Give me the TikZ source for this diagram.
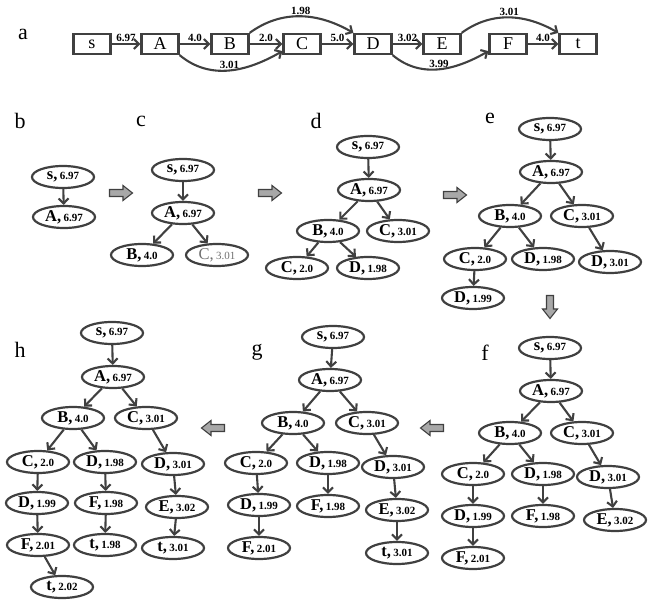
\documentclass[tikz,border=0pt]{standalone}
\usepackage{fontspec}
\setmainfont{Liberation Serif}
\usetikzlibrary{arrows.meta,shapes.geometric}
\definecolor{ln}{HTML}{404040}
\definecolor{bf}{HTML}{A8A8A8}
\newcommand\trn[2]{{\fontsize{16.5}{16}\selectfont\bfseries #1,}\ {\fontsize{11}{11}\selectfont\bfseries #2}}
\newcommand\trg[2]{\textcolor{ln!75}{{\fontsize{16.5}{16}\selectfont #1,}\ {\fontsize{11}{11}\selectfont #2}}}
\tikzset{
  box/.style={draw=ln, line width=2.2pt, minimum width=37pt, minimum height=20pt, inner sep=0pt, font=\fontsize{18}{18}\selectfont},
  tn/.style={ellipse, draw=ln, line width=2.2pt, minimum width=62pt, minimum height=22pt, inner sep=0pt},
  edge/.style={draw=ln, line width=2.1pt, -{Straight Barb[length=5pt,width=10pt]}},
  lab/.style={font=\fontsize{11}{11}\selectfont\bfseries, inner sep=1pt},
  plab/.style={font=\fontsize{22}{22}\selectfont, inner sep=0pt},
  blkarrow/.pic={\draw[draw=ln, fill=bf, line width=1.1pt] (-11.5,-3.5) -- (2,-3.5) -- (2,-7.5) -- (11.5,0) -- (2,7.5) -- (2,3.5) -- (-11.5,3.5) -- cycle;}
}
\begin{document}
\begin{tikzpicture}[x=1pt,y=-1pt]
\useasboundingbox (0,0) rectangle (648,601);
% ---------- panel a
\node[plab] (la) at (23,34) {a};
\node[box] (s) at (92,44) {s};
\node[box] (A) at (160,44) {A};
\node[box] (B) at (230,44) {B};
\node[box] (C) at (302,44) {C};
\node[box] (D) at (373,44) {D};
\node[box] (E) at (442,44) {E};
\node[box] (F) at (508,44) {F};
\node[box] (t) at (578,44) {t};
\draw[edge] (s) -- node[lab,above]{6.97} (A);
\draw[edge] (A) -- node[lab,above]{4.0} (B);
\draw[edge] (B) -- node[lab,above]{2.0} (C);
\draw[edge] (C) -- node[lab,above]{5.0} (D);
\draw[edge] (D) -- node[lab,above]{3.02} (E);
\draw[edge] (F) -- node[lab,above]{4.0} (t);
\draw[edge] (A.south east) to[out=-40,in=-150] node[lab,above,inner sep=0.5pt]{3.01} (C.200);
\draw[edge] (D.south east) to[out=-40,in=-150] node[lab,above,inner sep=0.5pt]{3.99} (F.200);
\draw[edge] (B.north east) to[out=36,in=150] node[lab,above,inner sep=0.5pt]{1.98} (D.north west);
\draw[edge] (E.north east) to[out=36,in=150] node[lab,above,inner sep=0.5pt]{3.01} (t.north west);
% ---------- panel labels
\node[plab] (lb) at (20,121) {b};
\node[plab] (lc) at (141,121) {c};
\node[plab] (ld) at (316,121) {d};
\node[plab] (le) at (490,118) {e};
\node[plab] (lh) at (20,350) {h};
\node[plab] (lg) at (257,352) {g};
\node[plab] (lf) at (485,353) {f};
% ---------- block arrows
\pic at (121,193) {blkarrow};
\pic at (270,193) {blkarrow};
\pic at (455,195) {blkarrow};
\pic[rotate=-90] at (550,307) {blkarrow};
\pic[rotate=180] at (432,428) {blkarrow};
\pic[rotate=180] at (213,428) {blkarrow};
% ---------- panel b
\node[tn] (b-s) at (63,177) {\trn{s}{6.97}};
\node[tn] (b-A) at (64,217) {\trn{A}{6.97}};
\draw[edge] (b-s) -- (b-A);
% ---------- panel c
\node[tn] (c-s) at (183,170) {\trn{s}{6.97}};
\node[tn] (c-A) at (183,213) {\trn{A}{6.97}};
\node[tn] (c-B) at (142,255) {\trn{B}{4.0}};
\node[tn] (c-C) at (217,255) {\trg{C}{3.01}};
\draw[edge] (c-s) -- (c-A);
\draw[edge] (c-A) -- (c-B);
\draw[edge] (c-A) -- (c-C);
% ---------- panel d
\node[tn] (d-s) at (368,147) {\trn{s}{6.97}};
\node[tn] (d-A) at (369,190) {\trn{A}{6.97}};
\node[tn] (d-B) at (328,231) {\trn{B}{4.0}};
\node[tn] (d-C) at (398,231) {\trn{C}{3.01}};
\node[tn] (d-C2) at (297,268) {\trn{C}{2.0}};
\node[tn] (d-D) at (368,268) {\trn{D}{1.98}};
\draw[edge] (d-s) -- (d-A);
\draw[edge] (d-A) -- (d-B);
\draw[edge] (d-A) -- (d-C);
\draw[edge] (d-B) -- (d-C2);
\draw[edge] (d-B) -- (d-D);
% ---------- panel e
\node[tn] (e-s) at (550,129) {\trn{s}{6.97}};
\node[tn] (e-A) at (551,172) {\trn{A}{6.97}};
\node[tn] (e-B) at (510,216) {\trn{B}{4.0}};
\node[tn] (e-C) at (582,216) {\trn{C}{3.01}};
\node[tn] (e-C2) at (475,259) {\trn{C}{2.0}};
\node[tn] (e-D1) at (543,259) {\trn{D}{1.98}};
\node[tn] (e-D3) at (610,262) {\trn{D}{3.01}};
\node[tn] (e-D9) at (473,298) {\trn{D}{1.99}};
\draw[edge] (e-s) -- (e-A);
\draw[edge] (e-A) -- (e-B);
\draw[edge] (e-A) -- (e-C);
\draw[edge] (e-B) -- (e-C2);
\draw[edge] (e-B) -- (e-D1);
\draw[edge] (e-C) -- (e-D3);
\draw[edge] (e-C2) -- (e-D9);
% ---------- panel f
\node[tn] (f-s) at (550,348) {\trn{s}{6.97}};
\node[tn] (f-A) at (551,391) {\trn{A}{6.97}};
\node[tn] (f-B) at (510,433) {\trn{B}{4.0}};
\node[tn] (f-C) at (582,433) {\trn{C}{3.01}};
\node[tn] (f-C2) at (473,474) {\trn{C}{2.0}};
\node[tn] (f-D1) at (543,474) {\trn{D}{1.98}};
\node[tn] (f-D3) at (608,477) {\trn{D}{3.01}};
\node[tn] (f-D9) at (473,516) {\trn{D}{1.99}};
\node[tn] (f-F1) at (543,516) {\trn{F}{1.98}};
\node[tn] (f-E) at (615,520) {\trn{E}{3.02}};
\node[tn] (f-F2) at (473,558) {\trn{F}{2.01}};
\draw[edge] (f-s) -- (f-A);
\draw[edge] (f-A) -- (f-B);
\draw[edge] (f-A) -- (f-C);
\draw[edge] (f-B) -- (f-C2);
\draw[edge] (f-B) -- (f-D1);
\draw[edge] (f-C) -- (f-D3);
\draw[edge] (f-C2) -- (f-D9);
\draw[edge] (f-D1) -- (f-F1);
\draw[edge] (f-D3) -- (f-E);
\draw[edge] (f-D9) -- (f-F2);
% ---------- panel g
\node[tn] (g-s) at (333,337) {\trn{s}{6.97}};
\node[tn] (g-A) at (330,380) {\trn{A}{6.97}};
\node[tn] (g-B) at (293,423) {\trn{B}{4.0}};
\node[tn] (g-C) at (367,423) {\trn{C}{3.01}};
\node[tn] (g-C2) at (256,463) {\trn{C}{2.0}};
\node[tn] (g-D1) at (328,463) {\trn{D}{1.98}};
\node[tn] (g-D3) at (393,467) {\trn{D}{3.01}};
\node[tn] (g-D9) at (259,505) {\trn{D}{1.99}};
\node[tn] (g-F1) at (328,506) {\trn{F}{1.98}};
\node[tn] (g-E) at (397,510) {\trn{E}{3.02}};
\node[tn] (g-F2) at (259,548) {\trn{F}{2.01}};
\node[tn] (g-t) at (397,553) {\trn{t}{3.01}};
\draw[edge] (g-s) -- (g-A);
\draw[edge] (g-A) -- (g-B);
\draw[edge] (g-A) -- (g-C);
\draw[edge] (g-B) -- (g-C2);
\draw[edge] (g-B) -- (g-D1);
\draw[edge] (g-C) -- (g-D3);
\draw[edge] (g-C2) -- (g-D9);
\draw[edge] (g-D1) -- (g-F1);
\draw[edge] (g-D3) -- (g-E);
\draw[edge] (g-D9) -- (g-F2);
\draw[edge] (g-E) -- (g-t);
% ---------- panel h
\node[tn] (h-s) at (112,333) {\trn{s}{6.97}};
\node[tn] (h-A) at (113,377) {\trn{A}{6.97}};
\node[tn] (h-B) at (73,418) {\trn{B}{4.0}};
\node[tn] (h-C) at (146,418) {\trn{C}{3.01}};
\node[tn] (h-C2) at (38,462) {\trn{C}{2.0}};
\node[tn] (h-D1) at (105,462) {\trn{D}{1.98}};
\node[tn] (h-D3) at (173,464) {\trn{D}{3.01}};
\node[tn] (h-D9) at (37,503) {\trn{D}{1.99}};
\node[tn] (h-F1) at (106,503) {\trn{F}{1.98}};
\node[tn] (h-E) at (177,507) {\trn{E}{3.02}};
\node[tn] (h-F2) at (38,545) {\trn{F}{2.01}};
\node[tn] (h-t1) at (105,545) {\trn{t}{1.98}};
\node[tn] (h-t3) at (173,548) {\trn{t}{3.01}};
\node[tn] (h-t2) at (62,587) {\trn{t}{2.02}};
\draw[edge] (h-s) -- (h-A);
\draw[edge] (h-A) -- (h-B);
\draw[edge] (h-A) -- (h-C);
\draw[edge] (h-B) -- (h-C2);
\draw[edge] (h-B) -- (h-D1);
\draw[edge] (h-C) -- (h-D3);
\draw[edge] (h-C2) -- (h-D9);
\draw[edge] (h-D1) -- (h-F1);
\draw[edge] (h-D3) -- (h-E);
\draw[edge] (h-D9) -- (h-F2);
\draw[edge] (h-F1) -- (h-t1);
\draw[edge] (h-E) -- (h-t3);
\draw[edge] (h-F2) -- (h-t2);
\end{tikzpicture}
\end{document}
